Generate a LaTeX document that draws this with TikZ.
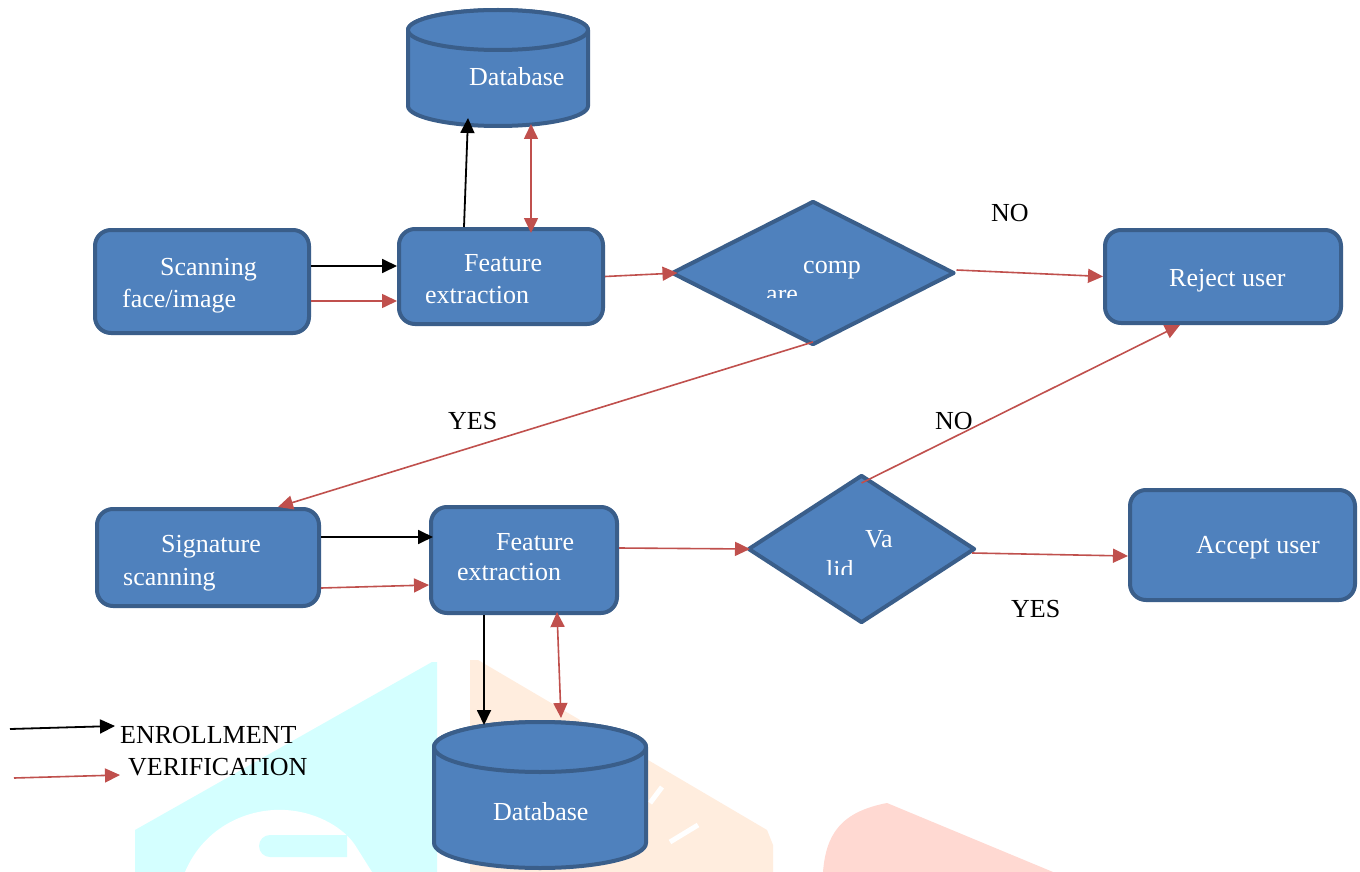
\documentclass[tikz,border=0pt]{standalone}
\usepackage{fontspec}
\setmainfont{Liberation Serif}
\usetikzlibrary{arrows.meta,shapes.geometric}
\definecolor{boxfill}{RGB}{79,129,189}
\definecolor{boxline}{RGB}{58,94,138}
\definecolor{redline}{RGB}{192,80,77}
\definecolor{wmcyan}{RGB}{212,255,255}
\definecolor{wmorange}{RGB}{255,237,222}
\definecolor{wmpink}{RGB}{255,217,210}
\begin{document}
\begin{tikzpicture}[x=1pt,y=-1pt,
  box/.style={draw=boxline, fill=boxfill, line width=4pt, rounded corners=16pt, inner sep=0pt},
  dia/.style={diamond, draw=boxline, fill=boxfill, line width=4pt, inner sep=0pt, line join=round},
  dbs/.style={draw=boxline, fill=boxfill, line width=4pt, line join=round},
  holder/.style={inner sep=0pt, outer sep=0pt},
  txt/.style={font=\fontsize{26}{30}\selectfont, inner sep=0pt, anchor=base west},
  wtxt/.style={txt, text=white},
  tipA/.tip={Triangle[length=15pt,width=14pt]},
  enr/.style={draw=black, line width=1.8pt, -tipA},
  ver/.style={draw=redline, line width=1.6pt, -tipA, tipA-tipA/.style={}},
  verboth/.style={draw=redline, line width=1.6pt, tipA-tipA}]
\useasboundingbox (0,0) rectangle (1360,872);
\fill[white] (0,0) rectangle (1360,872);
% watermark
\fill[wmcyan] (135,872) -- (135,830) -- (432,662) -- (437,662) -- (437,872) -- cycle;
\fill[white] (185,872) .. controls (205,825) and (250,808) .. (285,810) .. controls (320,812) and (345,830) .. (355,845) -- (372,872) -- cycle;
\fill[wmcyan] (270,835) -- (347,835) -- (347,857) -- (270,857) arc[start angle=270, end angle=90, radius=11pt] -- cycle;
\fill[wmorange] (470,872) -- (470,660) -- (478,660) -- (767,830) -- (773,845) -- (773,872) -- cycle;
\draw[white, line width=5pt] (662,787) -- (650,803);
\draw[white, line width=5pt] (698,825) -- (670,842);
\fill[wmpink] (823,872) .. controls (826,835) and (840,812) .. (887,803) -- (1053,872) -- cycle;

% boxes
\node[box, minimum width=214pt, minimum height=103pt] (scan) at (202,281.5) {};
\node[box, minimum width=204pt, minimum height=95pt] (fe1) at (501,276.5) {};
\node[dia, minimum width=283pt, minimum height=144pt] (cmp) at (813,273) {};
\node[box, minimum width=236pt, minimum height=93pt] (rej) at (1223,276.5) {};
\node[box, minimum width=222pt, minimum height=97pt] (sig) at (208,557.5) {};
\node[box, minimum width=186pt, minimum height=106pt] (fe2) at (524,560) {};
\node[dia, minimum width=227pt, minimum height=148pt] (val) at (861.5,549) {};
\node[box, minimum width=225pt, minimum height=110pt] (acc) at (1242.5,545) {};

% databases
\node[holder, minimum width=180pt, minimum height=116pt] (db1) at (498,68) {};
\path[dbs] ([yshift=-20pt]db1.north west) -- ([yshift=20pt]db1.south west)
  arc[start angle=180, end angle=360, x radius=90pt, y radius=20pt]
  -- ([yshift=-20pt]db1.north east)
  arc[start angle=0, end angle=180, x radius=90pt, y radius=20pt] -- cycle;
\draw[dbs] ([yshift=-20pt]db1.north) ellipse [x radius=90pt, y radius=20pt];

\node[holder, minimum width=212pt, minimum height=146pt] (db2) at (540,795) {};
\path[dbs] ([yshift=-25pt]db2.north west) -- ([yshift=25pt]db2.south west)
  arc[start angle=180, end angle=360, x radius=106pt, y radius=25pt]
  -- ([yshift=-25pt]db2.north east)
  arc[start angle=0, end angle=180, x radius=106pt, y radius=25pt] -- cycle;
\draw[dbs] ([yshift=-25pt]db2.north) ellipse [x radius=106pt, y radius=25pt];

% texts
\node[wtxt] (tdb1) at (469,86) {Database};
\node[wtxt] (tdb2) at (493,820) {Database};
\node[wtxt] (tscan1) at (160,275) {Scanning};
\node[wtxt] (tscan2) at (122,307) {face/image};
\node[wtxt] (tfe1a) at (464,271) {Feature};
\node[wtxt] (tfe1b) at (425,303) {extraction};
\node[wtxt] (tcmp1) at (803,273) {comp};
\begin{scope}
  \clip (740,270) rectangle (820,297);
  \node[wtxt] (tcmp2) at (766,302) {are};
\end{scope}
\node[wtxt] (trej) at (1169,286) {Reject user};
\node[wtxt] (tsig1) at (161,552) {Signature};
\node[wtxt] (tsig2) at (123,585) {scanning};
\node[wtxt] (tfe2a) at (496,550) {Feature};
\node[wtxt] (tfe2b) at (457,580) {extraction};
\node[wtxt] (tval1) at (865,547) {Va};
\begin{scope}
  \clip (800,550) rectangle (870,574);
  \node[wtxt] (tval2) at (826,578) {lid};
\end{scope}
\node[wtxt] (tacc) at (1196,553) {Accept user};

\node[txt] (no1) at (991,221) {NO};
\node[txt] (yes1) at (448,429) {YES};
\node[txt] (no2) at (935,429) {NO};
\node[txt] (yes2) at (1011,617) {YES};
\node[txt] (lenr) at (120,743) {ENROLLMENT};
\node[txt] (lver) at (128,775) {VERIFICATION};

% enrollment connectors
\draw[enr] ([yshift=15.5pt]scan.east) -- ([yshift=10.5pt]fe1.west);
\draw[enr] ([xshift=-37pt]fe1.north) -- ([xshift=-30pt,yshift=8pt]db1.south);
\draw[enr] ([yshift=20.5pt]sig.east) -- ([yshift=23pt,xshift=4pt]fe2.west);
\draw[enr] ([xshift=-40pt]fe2.south) -- ([xshift=-56pt,yshift=-3pt]db2.north);
\coordinate (le1) at (10,729);
\coordinate (le2) at (115,726);
\draw[enr] (le1) -- (le2);

% verification connectors
\draw[draw=redline, line width=1.6pt, -tipA] ([yshift=-19.5pt]scan.east) -- ([yshift=-24.5pt]fe1.west);
\draw[verboth] ([xshift=30pt,yshift=-6pt]fe1.north) -- ([xshift=33pt,yshift=2pt]db1.south);
\draw[draw=redline, line width=1.6pt, -tipA] (fe1.east) -- ([xshift=8pt]cmp.west);
\draw[draw=redline, line width=1.6pt, -tipA] ([yshift=3pt]cmp.east) -- (rej.west);
\draw[draw=redline, line width=1.6pt, -tipA] ([yshift=5pt]cmp.south) -- ([xshift=70pt]sig.north);
\draw[draw=redline, line width=1.6pt, -tipA] ([yshift=-10pt]val.north) -- ([xshift=-43pt]rej.south);
\draw[draw=redline, line width=1.6pt, -tipA] ([yshift=-30.5pt]sig.east) -- ([yshift=-25pt]fe2.west);
\draw[draw=redline, line width=1.6pt, -tipA] ([yshift=12pt]fe2.east) -- ([xshift=4pt]val.west);
\draw[draw=redline, line width=1.6pt, -tipA] ([xshift=-5pt,yshift=-4pt]val.east) -- ([yshift=-11pt]acc.west);
\draw[verboth] ([xshift=33pt,yshift=3pt]fe2.south) -- ([xshift=21pt,yshift=4pt]db2.north);
\coordinate (lv1) at (14,778);
\coordinate (lv2) at (120,775);
\draw[draw=redline, line width=1.6pt, -tipA] (lv1) -- (lv2);
\end{tikzpicture}
\end{document}
